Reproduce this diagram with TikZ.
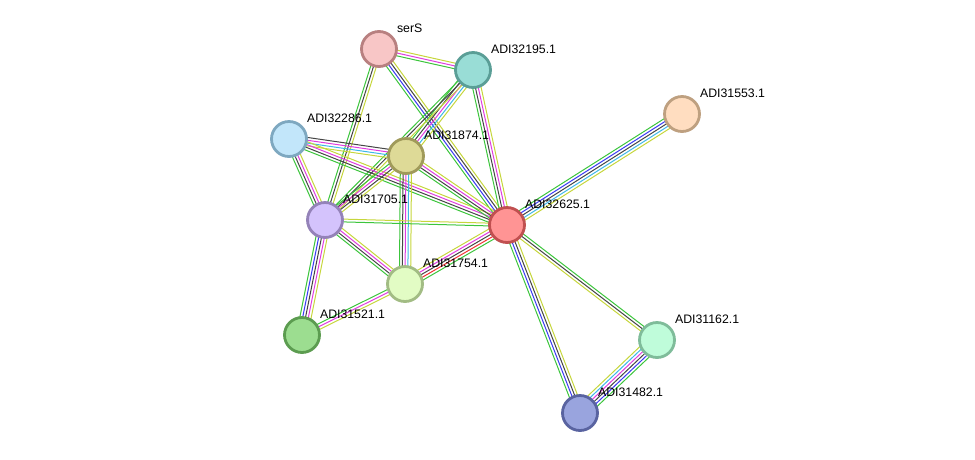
\documentclass[tikz,border=0pt]{standalone}
\usepackage{fontspec}
\setmainfont{Liberation Sans}
\usetikzlibrary{calc}

\pgfdeclarelayer{edges}
\pgfsetlayers{edges,main}

% evidence channels
\definecolor{nb}{HTML}{3CC53C}
\definecolor{fus}{HTML}{F03232}
\definecolor{cooc}{HTML}{3A3AF2}
\definecolor{coex}{HTML}{454545}
\definecolor{exp}{HTML}{E03CE0}
\definecolor{db}{HTML}{3EB8E8}
\definecolor{txt}{HTML}{C6D63C}

\tikzset{
  prot/.style={circle, minimum size=35pt, inner sep=0pt, line width=2.8pt},
  protlabel/.style={font=\fontsize{12.3}{14}\selectfont, inner sep=2.5pt, xshift=2pt},
  channel/.style={line width=1pt},
}

% one line per channel, spread across the edge
\newcommand\link[3]{%
  \foreach \c [count=\n] in {#3} {\xdef\nlines{\n}}%
  \foreach \c [count=\i] in {#3} {%
    \pgfmathsetmacro\off{(\i-(\nlines+1)/2)*2.8}%
    \draw[channel, \c] ($(#1)!\off pt!90:(#2)$) -- ($(#2)!\off pt!-90:(#1)$);
  }%
}

\begin{document}
\begin{tikzpicture}[x=1pt, y=-1pt]
  \useasboundingbox (0,0) rectangle (975,459);

  \node[prot, fill={rgb,255:red,248;green,198;blue,198}, draw={rgb,255:red,184;green,128;blue,128},
    label={[protlabel]45:serS}] (serS) at (379,49) {};
  \node[prot, fill={rgb,255:red,153;green,221;blue,214}, draw={rgb,255:red,90;green,158;blue,150},
    label={[protlabel]45:ADI32195.1}] (a32195) at (473,70) {};
  \node[prot, fill={rgb,255:red,255;green,221;blue,192}, draw={rgb,255:red,190;green,160;blue,128},
    label={[protlabel]45:ADI31553.1}] (a31553) at (682,114) {};
  \node[prot, fill={rgb,255:red,194;green,230;blue,250}, draw={rgb,255:red,126;green,168;blue,192},
    label={[protlabel]45:ADI32286.1}] (a32286) at (289,139) {};
  \node[prot, fill={rgb,255:red,222;green,218;blue,151}, draw={rgb,255:red,160;green,154;blue,90},
    label={[protlabel]45:ADI31874.1}] (a31874) at (406,156) {};
  \node[prot, fill={rgb,255:red,212;green,195;blue,252}, draw={rgb,255:red,148;green,130;blue,184},
    label={[protlabel]45:ADI31705.1}] (a31705) at (325,220) {};
  \node[prot, fill={rgb,255:red,255;green,148;blue,148}, draw={rgb,255:red,192;green,80;blue,80},
    label={[protlabel]45:ADI32625.1}] (a32625) at (507,225) {};
  \node[prot, fill={rgb,255:red,226;green,252;blue,196}, draw={rgb,255:red,162;green,188;blue,132},
    label={[protlabel]45:ADI31754.1}] (a31754) at (405,284) {};
  \node[prot, fill={rgb,255:red,156;green,221;blue,144}, draw={rgb,255:red,92;green,156;blue,80},
    label={[protlabel]45:ADI31521.1}] (a31521) at (302,335) {};
  \node[prot, fill={rgb,255:red,191;green,252;blue,218}, draw={rgb,255:red,127;green,188;blue,154},
    label={[protlabel]45:ADI31162.1}] (a31162) at (657,340) {};
  \node[prot, fill={rgb,255:red,153;green,164;blue,222}, draw={rgb,255:red,89;green,99;blue,160},
    label={[protlabel]45:ADI31482.1}] (a31482) at (580,413) {};

  \begin{pgfonlayer}{edges}
    \link{serS}{a32195}{nb,exp,txt}
    \link{serS}{a31705}{nb,coex,txt}
    \link{serS}{a32625}{nb,cooc,coex,txt}
    \link{a32195}{a31874}{nb,coex,exp,db,txt}
    \link{a32195}{a31705}{nb,coex,txt}
    \link{a32195}{a32625}{nb,coex,exp,txt}
    \link{a32286}{a31874}{txt,db,exp,coex}
    \link{a32286}{a32625}{nb,coex,exp,txt}
    \link{a32286}{a31705}{nb,coex,exp,txt}
    \link{a31874}{a31705}{nb,exp,coex,txt}
    \link{a31874}{a31754}{nb,coex,exp,db,txt}
    \link{a31874}{a32625}{nb,coex,exp,txt}
    \link{a31705}{a32625}{nb,txt}
    \link{a31705}{a31754}{nb,coex,exp,txt}
    \link{a31705}{a31521}{nb,cooc,coex,exp,txt}
    \link{a31754}{a32625}{nb,fus,coex,exp,txt}
    \link{a31754}{a31521}{nb,exp,txt}
    \link{a32625}{a31553}{txt,db,coex,cooc,nb}
    \link{a32625}{a31162}{txt,coex,nb}
    \link{a32625}{a31482}{nb,cooc,coex,txt}
    \link{a31162}{a31482}{txt,db,exp,coex,cooc,nb}
  \end{pgfonlayer}
\end{tikzpicture}
\end{document}
